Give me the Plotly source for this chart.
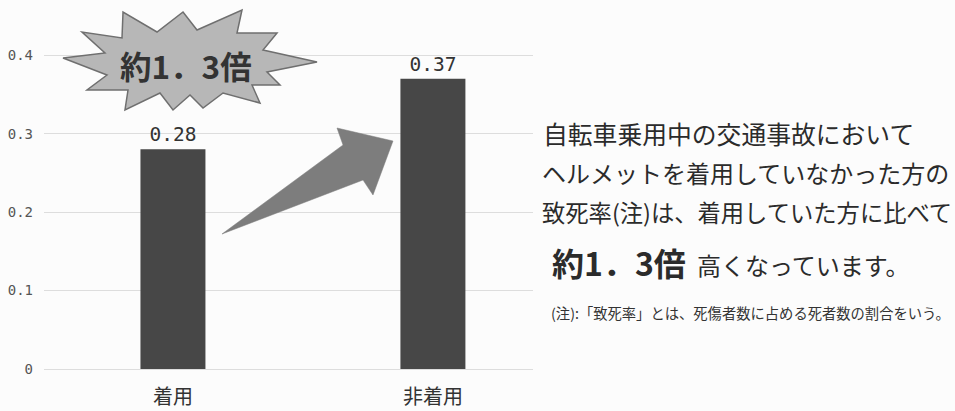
import plotly.graph_objects as go

categories = ["着用", "非着用"]
values = [0.28, 0.37]
value_labels = ["0.28", "0.37"]
tick_vals = [0, 0.1, 0.2, 0.3, 0.4]
tick_text = ["0", "0.1", "0.2", "0.3", "0.4"]

W, H = 955, 411
L, R, T, B = 44, 533, 16, 369

def px(x):
    return (x - L) / (R - L)

def py(y):
    return (B - y) / (B - T)

def path(points):
    return "M " + " L ".join(f"{px(a):.4f},{py(b):.4f}" for a, b in points) + " Z"

fig = go.Figure()
fig.add_trace(go.Bar(
    x=categories, y=values, width=0.25,
    marker=dict(color="#474747", line=dict(width=0)),
    text=value_labels, textposition="outside",
    textfont=dict(family="DejaVu Sans Mono", size=19.5, color="#333333"),
    cliponaxis=False, hoverinfo="skip",
))

star = [(63,58),(105,53),(82,32),(122,38),(123,12),(157,32),(183,12),(197,30),(242,10),
        (237,33),(277,33),(263,50),(317,62),(267,72),(280,85),(252,85),(260,103),(223,93),
        (203,108),(190,95),(173,110),(160,93),(125,110),(128,90),(87,90),(107,75)]
arrow = [(222,234),(343,145),(337,128),(393,141),(373,195),(363,180)]

shapes = [
    dict(type="path", xref="paper", yref="paper", path=path(star),
         fillcolor="#b7b7b7", line=dict(color="#6f6f6f", width=1.5), layer="above"),
    dict(type="path", xref="paper", yref="paper", path=path(arrow),
         fillcolor="#7d7d7d", line=dict(color="#7d7d7d", width=0.5), layer="above"),
]

jp = "Noto Sans CJK JP"
ann = [
    dict(x=px(186), y=py(65), text="<b>約1．3倍</b>", font=dict(family=jp, size=31.5, color="#333333"),
         xanchor="center", yanchor="middle"),
    dict(x=px(541), y=py(133), text="自転車乗用中の交通事故において", font=dict(family=jp, size=24.8, color="#2b2b2b"),
         xanchor="left", yanchor="middle"),
    dict(x=px(540), y=py(172), text="ヘルメットを着用していなかった方の", font=dict(family=jp, size=24, color="#2b2b2b"),
         xanchor="left", yanchor="middle"),
    dict(x=px(540), y=py(212), text="致死率(注)は、着用していた方に比べて", font=dict(family=jp, size=23.3, color="#2b2b2b"),
         xanchor="left", yanchor="middle"),
    dict(x=px(550), y=py(262), text="<b>約1．3倍</b>", font=dict(family=jp, size=32, color="#2b2b2b"),
         xanchor="left", yanchor="middle"),
    dict(x=px(695), y=py(264), text="高くなっています。", font=dict(family=jp, size=24, color="#2b2b2b"),
         xanchor="left", yanchor="middle"),
    dict(x=px(549), y=py(312), text="(注):「致死率」とは、死傷者数に占める死者数の割合をいう。",
         font=dict(family=jp, size=14.3, color="#333333"), xanchor="left", yanchor="middle"),
]
for a in ann:
    a.update(xref="paper", yref="paper", showarrow=False)

fig.update_layout(
    width=W, height=H,
    margin=dict(l=L, r=W - R, t=T, b=H - B, pad=0, autoexpand=False),
    paper_bgcolor="#fcfcfc", plot_bgcolor="#fcfcfc",
    showlegend=False,
    bargap=0.75,
    shapes=shapes, annotations=ann,
    xaxis=dict(range=[-0.496, 1.385], showgrid=False, zeroline=False, showline=False,
               tickfont=dict(family=jp, size=20, color="#333333"), ticks="",
               ticklabelstandoff=14, automargin=False),
    yaxis=dict(range=[0, 0.45], tickvals=tick_vals, ticktext=tick_text,
               showgrid=True, gridcolor="#dddddd", gridwidth=1,
               zeroline=True, zerolinecolor="#dddddd", zerolinewidth=1, showline=False,
               tickfont=dict(family="DejaVu Sans Mono", size=14, color="#555555"),
               ticklabelstandoff=10, automargin=False),
)

fig.write_html("out.html", config={"displayModeBar": False},
               post_script="document.body.style.margin='0';document.body.style.overflow='hidden';")
